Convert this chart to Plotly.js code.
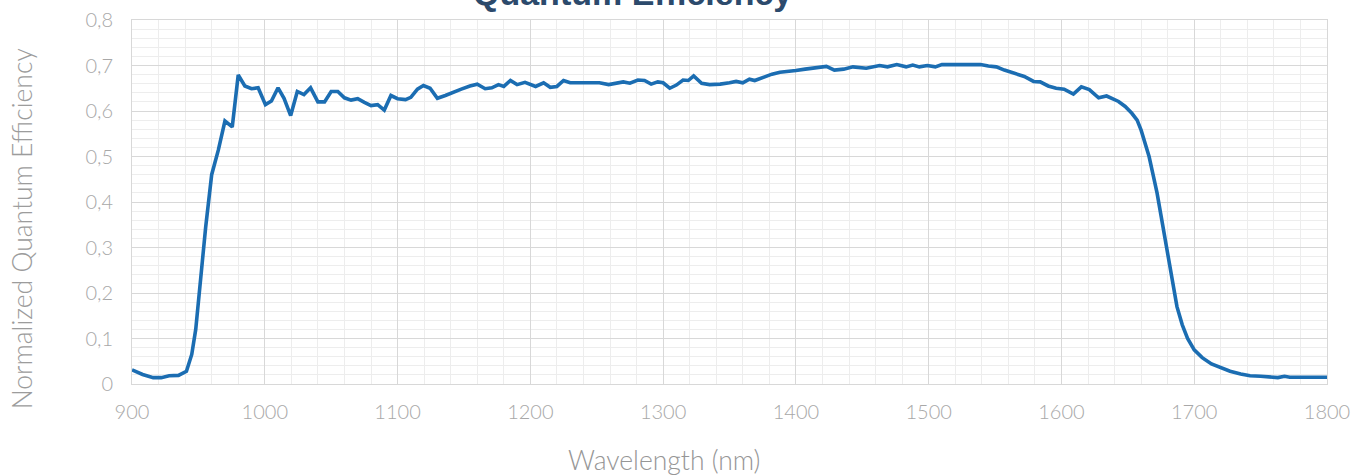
<!DOCTYPE html>
<html>
<head>
<meta charset="utf-8">
<script src="https://cdn.plot.ly/plotly-3.0.1.min.js"></script>
<style>html,body{margin:0;padding:0;background:#fff;}#chart{width:1355px;height:475px;}</style>
</head>
<body>
<div id="chart"></div>
<script>
const wavelength = [900,908,916,922,928,935,941,945,948,951,953,955.5,958,960,965,970,975.5,980,985,990,995,1000.5,1005,1010,1014.5,1019.5,1024.5,1029.5,1034.5,1040,1045,1050,1055,1060,1065,1070,1075,1080,1085,1090,1095,1100,1106,1110,1115,1119.5,1124.5,1130,1136,1142,1148,1154.5,1160,1166,1171,1176,1180,1185,1190,1196,1201,1204,1210,1215,1220,1225,1230,1240,1252,1259,1265,1270,1275,1281,1286,1291,1296,1300,1305,1310,1315,1319,1323,1329,1335,1343,1350,1355,1360,1365,1369,1375,1382,1388,1394,1400,1407,1413,1423,1429,1436,1443,1453,1463,1469,1476,1483,1488,1493,1499,1505,1510,1525,1539,1545,1551,1557,1565,1572,1579,1584,1590,1596,1602,1609,1615,1621,1628,1634,1643,1648,1653,1657,1660,1663,1666,1669,1672,1675,1678,1681,1684,1687,1691,1695,1700,1706,1713,1720,1727,1735,1742,1750,1758,1763,1768,1772,1780,1790,1800];
const efficiency = [0.031,0.021,0.014,0.014,0.018,0.019,0.028,0.065,0.12,0.2,0.27,0.345,0.42,0.46,0.514,0.578,0.565,0.679,0.655,0.649,0.651,0.614,0.622,0.651,0.628,0.590,0.643,0.636,0.651,0.620,0.620,0.643,0.643,0.629,0.624,0.627,0.619,0.612,0.614,0.602,0.634,0.627,0.625,0.630,0.648,0.656,0.650,0.628,0.634,0.640,0.648,0.655,0.659,0.649,0.651,0.658,0.654,0.667,0.658,0.663,0.658,0.654,0.662,0.652,0.654,0.667,0.662,0.662,0.662,0.658,0.661,0.664,0.661,0.668,0.667,0.659,0.664,0.662,0.650,0.657,0.668,0.667,0.677,0.661,0.658,0.659,0.662,0.665,0.662,0.670,0.667,0.674,0.681,0.685,0.688,0.689,0.692,0.694,0.698,0.690,0.692,0.697,0.694,0.700,0.697,0.702,0.697,0.701,0.697,0.700,0.697,0.702,0.702,0.702,0.699,0.697,0.690,0.683,0.676,0.665,0.664,0.655,0.650,0.648,0.637,0.653,0.647,0.629,0.633,0.621,0.610,0.595,0.58,0.558,0.53,0.50,0.46,0.42,0.37,0.32,0.26,0.21,0.17,0.13,0.10,0.075,0.058,0.044,0.035,0.028,0.022,0.018,0.017,0.016,0.014,0.017,0.015,0.015,0.015,0.015];
const xTickVals = [900,1000,1100,1200,1300,1400,1500,1600,1700,1800];
const xTickText = ['900','1000','1100','1200','1300','1400','1500','1600','1700','1800'];
const yTickVals = [0,0.1,0.2,0.3,0.4,0.5,0.6,0.7,0.8];
const yTickText = ['0','0,1','0,2','0,3','0,4','0,5','0,6','0,7','0,8'];
const chartTitle = 'Quantum Efficiency';
const xTitle = 'Wavelength (nm)';
const yTitle = 'Normalized Quantum Efficiency';

const tickFont = {family: 'Lato, sans-serif', size: 20, color: '#a8a8a8', weight: 300};
const data = [{
  x: wavelength, y: efficiency, type: 'scatter', mode: 'lines',
  line: {color: '#1b6db2', width: 3.6}, hoverinfo: 'x+y'
}];
const layout = {
  width: 1355, height: 475,
  margin: {l: 132, r: 28, t: 20, b: 91},
  paper_bgcolor: '#ffffff', plot_bgcolor: '#ffffff',
  showlegend: false,
  xaxis: {
    range: [900, 1800], tickmode: 'array', tickvals: xTickVals, ticktext: xTickText,
    tickfont: tickFont, showgrid: true, gridcolor: '#d8d8d8', gridwidth: 1,
    zeroline: false, showline: true, linecolor: '#d8d8d8', mirror: true,
    ticks: '', ticklabelstandoff: 10,
    minor: {dtick: 20, tick0: 900, showgrid: true, gridcolor: '#ededed', gridwidth: 1}
  },
  yaxis: {
    range: [0, 0.8], tickmode: 'array', tickvals: yTickVals, ticktext: yTickText,
    tickfont: tickFont, showgrid: true, gridcolor: '#d8d8d8', gridwidth: 1,
    zeroline: false, showline: true, linecolor: '#d8d8d8', mirror: true,
    ticks: '', ticklabelstandoff: 14,
    minor: {dtick: 0.02, tick0: 0, showgrid: true, gridcolor: '#ededed', gridwidth: 1}
  },
  annotations: [
    {text: '<b>' + chartTitle + '</b>', xref: 'paper', yref: 'paper', x: 0.419, y: 1.016,
     xanchor: 'center', yanchor: 'bottom', showarrow: false,
     font: {family: 'Liberation Sans, Arial, sans-serif', size: 34, color: '#2c4a6c'}},
    {text: xTitle, xref: 'paper', yref: 'paper', x: 0.445, y: -0.16,
     xanchor: 'center', yanchor: 'top', showarrow: false,
     font: {family: 'Lato, sans-serif', size: 26.5, color: '#969696', weight: 300}},
    {text: yTitle, xref: 'paper', yref: 'paper', x: -0.092, y: 0.425,
     xanchor: 'center', yanchor: 'middle', textangle: -90, showarrow: false,
     font: {family: 'Lato, sans-serif', size: 26.5, color: '#9c9c9c', weight: 300}}
  ]
};
Plotly.newPlot('chart', data, layout, {displayModeBar: false, staticPlot: true});
</script>
</body>
</html>
